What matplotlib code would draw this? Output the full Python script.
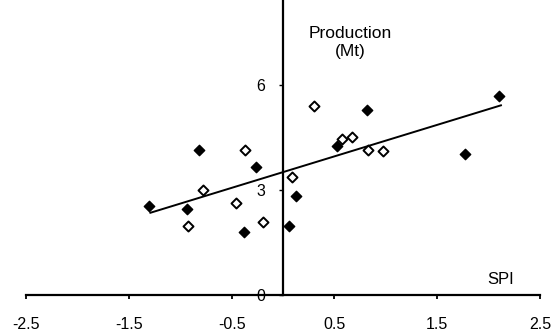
import numpy as np
import matplotlib.pyplot as plt

plt.rcParams['font.family'] = ['Liberation Sans', 'DejaVu Sans']

# filled diamonds
filled_x = [-1.30, -0.82, -0.935, -0.265, -0.38, 0.055, 0.13, 0.527, 0.82, 1.77, 2.10]
filled_y = [2.55, 4.13, 2.47, 3.65, 1.81, 1.97, 2.84, 4.27, 5.30, 4.02, 5.69]
# open diamonds
open_x = [-0.92, -0.78, -0.46, -0.37, -0.19, 0.084, 0.30, 0.57, 0.67, 0.83, 0.97]
open_y = [1.96, 3.00, 2.64, 4.13, 2.09, 3.37, 5.40, 4.47, 4.51, 4.15, 4.12]
# trend line ends
trend_x = [-1.29, 2.12]
trend_y = [2.35, 5.42]

xticks = [-2.5, -1.5, -0.5, 0.5, 1.5, 2.5]
yticks = [0, 3, 6]

fig = plt.figure(figsize=(5.54, 3.31), dpi=100)
ax = fig.add_axes([26/554, 36/331, 514/554, 295/331])

ax.plot(trend_x, trend_y, color='black', linewidth=1.4, zorder=2)
ax.scatter(filled_x, filled_y, marker='D', s=28, color='black', zorder=3)
ax.scatter(open_x, open_y, marker='D', s=26, facecolor='white', edgecolor='black', linewidth=1.4, zorder=3)

ax.set_xlim(-2.5, 2.5)
ax.set_ylim(0, 8.43)
ax.spines['top'].set_visible(False)
ax.spines['right'].set_visible(False)
ax.spines['left'].set_position(('data', 0))
ax.spines['left'].set_linewidth(1.6)
ax.spines['bottom'].set_linewidth(1.6)

ax.set_xticks(xticks)
ax.set_xticklabels([str(t) for t in xticks])
ax.set_yticks(yticks)
ax.tick_params(axis='x', direction='out', length=3, width=1.3, pad=13, labelsize=11.5)
ax.tick_params(axis='y', direction='out', length=3, width=1.0, pad=10, labelsize=11.5, colors='black')

ax.text(0.655, 7.22, 'Production\n(Mt)', ha='center', va='center', fontsize=12.5, linespacing=1.25)
ax.text(2.12, 0.43, 'SPI', ha='center', va='center', fontsize=12)

fig.savefig('out.png', dpi=100)
